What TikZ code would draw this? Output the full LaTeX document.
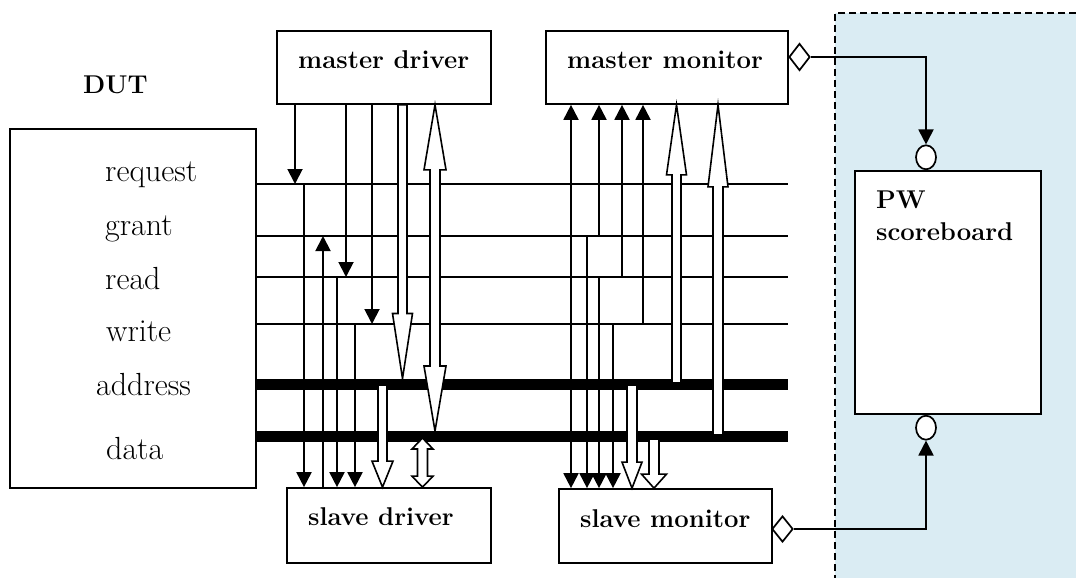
\documentclass[tikz,border=0pt]{standalone}
\usetikzlibrary{arrows.meta,shapes.geometric,calc}
\definecolor{sbzone}{RGB}{218,236,243}

% hollow block arrow from #1 (tail) to #2 (tip); #3 head length,
% #4 shaft half width, #5 head half width (all in pt)
\newcommand\hollowarrow[5]{%
  \path[hollow] let \p1=(#1), \p2=(#2), \n1={(\y2)-sign((\y2)-(\y1))*#3pt} in
    (\x1-#4pt,\y1) -- (\x1-#4pt,\n1) -- (\x1-#5pt,\n1) -- (\x2,\y2)
    -- (\x1+#5pt,\n1) -- (\x1+#4pt,\n1) -- (\x1+#4pt,\y1) -- cycle;}
% hollow block arrow with heads at both ends #1 and #2
\newcommand\hollowboth[5]{%
  \path[hollow] let \p1=(#1), \p2=(#2), \n1={sign((\y2)-(\y1))},
      \n2={(\y1)+(\n1)*#3pt}, \n3={(\y2)-(\n1)*#3pt} in
    (\x1-#4pt,\n2) -- (\x1-#5pt,\n2) -- (\x1,\y1) -- (\x1+#5pt,\n2)
    -- (\x1+#4pt,\n2) -- (\x1+#4pt,\n3) -- (\x1+#5pt,\n3) -- (\x2,\y2)
    -- (\x1-#5pt,\n3) -- (\x1-#4pt,\n3) -- cycle;}

\begin{document}
\begin{tikzpicture}[x=1pt,y=-1pt,
  box/.style={draw, line width=1.7pt, inner sep=0pt},
  wire/.style={line width=1.9pt},
  bus/.style={line width=11pt},
  sig/.style={line width=1.9pt, -{Triangle[width=15pt,length=15pt]}},
  hollow/.style={draw, fill=white, line width=1.6pt, line join=miter},
  lbl/.style={anchor=base west, inner sep=0pt, font=\fontsize{32}{36}\selectfont},
  title/.style={anchor=base west, inner sep=0pt, font=\fontsize{25.7}{30}\selectfont\bfseries},
  port/.style={draw, fill=white, line width=1.7pt, inner sep=0pt},
]
\useasboundingbox (0,0) rectangle (1076,578);

% scoreboard zone
\fill[sbzone] (835,13) rectangle (1076,578);
\draw[line width=1.5pt, dash pattern=on 7pt off 4pt] (1076,13) -- (835,13) -- (835,578);

% blocks
\node[box, minimum width=246pt, minimum height=359pt] (dut) at (133,308.5) {};
\node[box, minimum width=214pt, minimum height=73pt] (md) at (384,67.5) {};
\node[box, minimum width=242pt, minimum height=73pt] (mm) at (667,67.5) {};
\node[box, minimum width=204pt, minimum height=75pt] (sd) at (389,525.5) {};
\node[box, minimum width=213pt, minimum height=74pt] (sm) at (665.5,526) {};
\node[box, fill=white, minimum width=186pt, minimum height=243pt] (sb) at (948,292.5) {};

% block titles
\node[title] at (83,93) {DUT};
\node[title] at (298,68) {master driver};
\node[title] at (567,68) {master monitor};
\node[title] at (308,525) {slave driver};
\node[title] at (580,527) {slave monitor};
\node[title] at (876,208) {PW};
\node[title] at (876,240) {scoreboard};

% signal names
\node[lbl] at (105,181) {request};
\node[lbl] at (105,235) {grant};
\node[lbl] at (105,289) {read};
\node[lbl] at (106,341) {write};
\node[lbl] at (96,395) {address};
\node[lbl] at (106,459) {data};

% bus line ends
\coordinate (lreq) at (788,184);
\coordinate (lgnt) at (788,236);
\coordinate (lrd)  at (788,277);
\coordinate (lwr)  at (788,324);
\coordinate (ladr) at (788,384);
\coordinate (ldat) at (788,436.5);

\draw[wire] (dut.east |- lreq) -- (lreq);
\draw[wire] (dut.east |- lgnt) -- (lgnt);
\draw[wire] (dut.east |- lrd) -- (lrd);
\draw[wire] (dut.east |- lwr) -- (lwr);
\draw[bus] (dut.east |- ladr) -- (ladr);
\draw[bus] (dut.east |- ldat) -- (ldat);

% taps on the signal lines
\coordinate (mdreq) at (295,184);
\coordinate (mdrd)  at (346,277);
\coordinate (mdwr)  at (372,324);
\coordinate (sdreq) at (304,184);
\coordinate (sdgnt) at (323,236);
\coordinate (sdrd)  at (337,277);
\coordinate (sdwr)  at (355,324);
\coordinate (mreq)  at (571,184);
\coordinate (mmgnt) at (599,236);
\coordinate (mmrd)  at (622,277);
\coordinate (mmwr)  at (643,324);
\coordinate (smgnt) at (587,236);
\coordinate (smrd)  at (599,277);
\coordinate (smwr)  at (613,324);

% master driver
\draw[sig] (md.south -| mdreq) -- (mdreq);
\draw[sig] (md.south -| mdrd) -- (mdrd);
\draw[sig] (md.south -| mdwr) -- (mdwr);
% slave driver
\draw[sig] (sdreq) -- (sd.north -| sdreq);
\draw[sig] (sd.north -| sdgnt) -- (sdgnt);
\draw[sig] (sdrd) -- (sd.north -| sdrd);
\draw[sig] (sdwr) -- (sd.north -| sdwr);
% master monitor
\draw[sig] (mreq) -- (mm.south -| mreq);
\draw[sig] (mmgnt) -- (mm.south -| mmgnt);
\draw[sig] (mmrd) -- (mm.south -| mmrd);
\draw[sig] (mmwr) -- (mm.south -| mmwr);
% slave monitor
\draw[sig] (mreq) -- (sm.north -| mreq);
\draw[sig] (smgnt) -- (sm.north -| smgnt);
\draw[sig] (smrd) -- (sm.north -| smrd);
\draw[sig] (smwr) -- (sm.north -| smwr);

% address / data block arrows
\coordinate (mdadr) at (402.5,378.5);
\coordinate (mddat) at (435,431);
\coordinate (sdadr) at (382.5,385);
\coordinate (sddat) at (422.5,438);
\coordinate (mmadr) at (676.5,383);
\coordinate (mmdat) at (718,435);
\coordinate (smadr) at (632,385);
\coordinate (smdat) at (654,439);

\hollowarrow{md.south -| mdadr}{mdadr}{65}{4.5}{10}
\hollowboth{md.south -| mddat}{mddat}{65}{5}{11}
\hollowarrow{sdadr}{sd.north -| sdadr}{26}{4.5}{10.5}
\hollowboth{sddat}{sd.north -| sddat}{11}{5}{10.5}
\hollowarrow{mmadr}{mm.south -| mmadr}{70}{4.5}{10}
\hollowarrow{mmdat}{mm.south -| mmdat}{82}{5}{10}
\hollowarrow{smadr}{sm.north -| smadr}{26}{5}{10}
\hollowarrow{smdat}{sm.north -| smdat}{14}{5}{12.5}

% analysis ports and scoreboard exports
\coordinate (sbx) at (926,0);
\node[port, diamond, minimum width=21pt, minimum height=27pt] (mmport) at (799.5,57) {};
\node[port, diamond, minimum width=21pt, minimum height=26pt] (smport) at (782.5,529) {};
\node[port, ellipse, minimum width=20pt, minimum height=24pt, anchor=south] (sbin) at (sb.north -| sbx) {};
\node[port, ellipse, minimum width=20pt, minimum height=24pt, anchor=north] (sbin2) at (sb.south -| sbx) {};

\draw[sig] (mmport.east) -| (sbin.north);
\draw[sig] (smport.east) -| (sbin2.south);
\end{tikzpicture}
\end{document}
